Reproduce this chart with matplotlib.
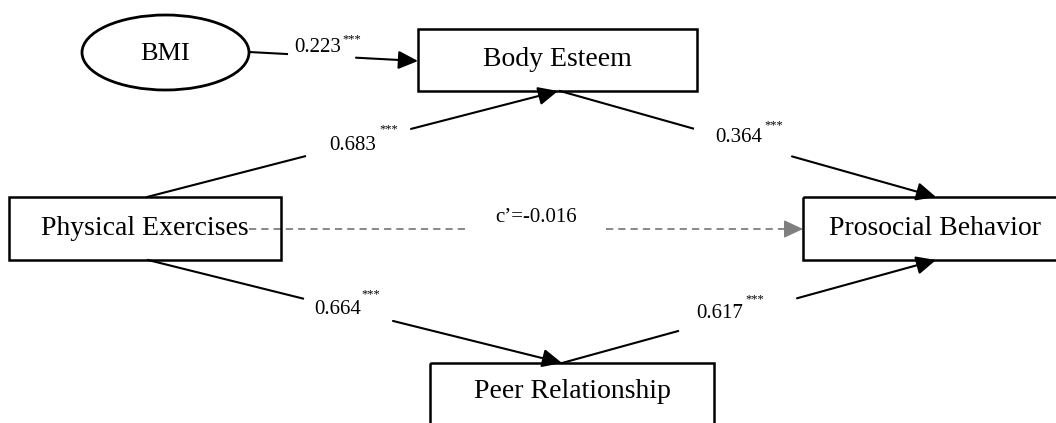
import matplotlib.pyplot as plt
from matplotlib.patches import Rectangle, Ellipse

plt.rcParams['font.family'] = ['Liberation Serif', 'DejaVu Serif']

# path model: nodes and standardized coefficients
node_names = ['BMI', 'Body Esteem', 'Physical Exercises', 'Prosocial Behavior', 'Peer Relationship']
node_boxes = [(82, 15, 167, 75), (418, 29, 279, 62), (9, 197, 272, 63), (803, 197, 260, 63), (430, 363, 284, 70)]
node_shape = ['ellipse', 'box', 'box', 'box', 'box']
node_fs = [19, 20, 20, 20, 20]

edge_from = [(249, 52), (147, 197), (560, 91), (148, 260), (562, 363), (249, 229)]
edge_to = [(418, 61), (558, 91), (936, 197), (562, 363), (936, 260), (803, 229)]
edge_gap = [(287, 356), (305, 411), (693, 792), (303, 393), (678, 797), (468, 606)]
coefs = ['0.223', '0.683', '0.364', '0.664', '0.617', 'c\u2019=-0.016']
stars = ['***', '***', '***', '***', '***', '']
label_pos = [(318, 47), (353, 146), (739, 138), (338, 309), (720, 313), (536, 217)]
star_pos = [(352, 39), (389, 129), (774, 125), (371, 294), (755, 299), (0, 0)]
dashed = [False, False, False, False, False, True]

fig = plt.figure(figsize=(10.56, 4.23), dpi=100)
ax = fig.add_axes([0, 0, 1, 1])
ax.set_xlim(0, 1056)
ax.set_ylim(423, 0)
ax.axis('off')


def y_at(p0, p1, x):
    if p1[0] == p0[0]:
        return p0[1]
    return p0[1] + (p1[1] - p0[1]) * (x - p0[0]) / (p1[0] - p0[0])


head = '-|>,head_length=0.6,head_width=0.28'
for i in range(len(edge_from)):
    p0, p1 = edge_from[i], edge_to[i]
    g0, g1 = edge_gap[i]
    q0 = (g0, y_at(p0, p1, g0))
    q1 = (g1, y_at(p0, p1, g1))
    if dashed[i]:
        col = '#7f7f7f'
        # dashed shaft, solid head
        hx = p1[0] - 14
        ax.plot([p0[0], q0[0]], [p0[1], q0[1]], color=col, lw=1.3, dashes=(4, 2.8), zorder=1)
        ax.plot([q1[0], hx], [q1[1], y_at(p0, p1, hx)], color=col, lw=1.3, dashes=(4, 2.8), zorder=1)
        ax.annotate('', xy=p1, xytext=(hx, y_at(p0, p1, hx)),
                    arrowprops=dict(arrowstyle=head, color=col, lw=1.0, mutation_scale=20,
                                    shrinkA=0, shrinkB=0), zorder=1)
    else:
        ax.plot([p0[0], q0[0]], [p0[1], q0[1]], color='black', lw=1.5, zorder=1)
        ax.annotate('', xy=p1, xytext=q1,
                    arrowprops=dict(arrowstyle=head, color='black', lw=1.5, mutation_scale=20,
                                    shrinkA=0, shrinkB=0), zorder=1)
    ax.text(label_pos[i][0], label_pos[i][1], coefs[i], fontsize=15,
            ha='center', va='center')
    if stars[i]:
        ax.text(star_pos[i][0], star_pos[i][1], stars[i], fontsize=9,
                ha='center', va='center')

for name, (x, y, w, h), shape, fs in zip(node_names, node_boxes, node_shape, node_fs):
    if shape == 'ellipse':
        ax.add_patch(Ellipse((x + w / 2, y + h / 2), w, h, fc='white', ec='black', lw=2.0, zorder=2))
        ty = y + h / 2 + 1
    else:
        ax.add_patch(Rectangle((x, y), w, h, fc='none', ec='black', lw=1.8, zorder=2))
        ty = y + min(h, 63) / 2
    tx = x + w / 2
    if name == 'Prosocial Behavior':
        tx = 935
    if name == 'Peer Relationship':
        ty = 391
    ax.text(tx, ty, name, fontsize=fs, ha='center', va='center', zorder=3)

fig.savefig('out.png', dpi=100)
